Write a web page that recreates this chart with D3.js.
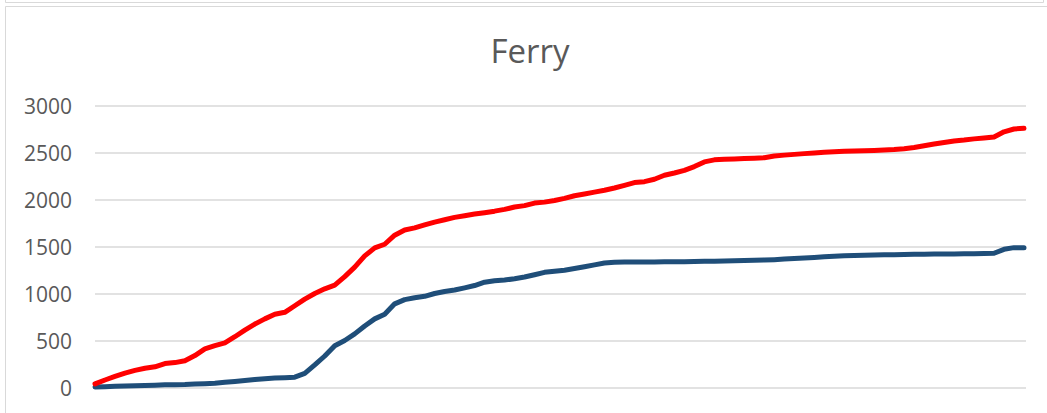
<!DOCTYPE html>
<html>
<head>
<meta charset="utf-8">
<script src="https://cdn.jsdelivr.net/npm/d3@7"></script>
<style>
  html, body { margin: 0; padding: 0; background: #fff; overflow: hidden; }
  svg { display: block; }
</style>
</head>
<body>
<svg id="chart" width="1047" height="413"></svg>
<script>
const title = "Ferry";
const yTicks = [0, 500, 1000, 1500, 2000, 2500, 3000];
const redSeries = [39, 80, 118, 153, 182, 205, 220, 255, 265, 285,
  340, 410, 445, 475, 540, 610, 675, 730, 780, 800,
  870, 940, 1000, 1050, 1090, 1180, 1280, 1400, 1485, 1524,
  1620, 1676, 1698, 1730, 1760, 1785, 1810, 1828, 1845, 1860,
  1876, 1895, 1920, 1935, 1962, 1972, 1990, 2012, 2040, 2058,
  2078, 2098, 2122, 2150, 2180, 2190, 2215, 2258, 2282, 2310,
  2350, 2400, 2422, 2428, 2432, 2436, 2440, 2445, 2463, 2472,
  2480, 2488, 2495, 2502, 2507, 2512, 2515, 2519, 2522, 2527,
  2532, 2540, 2553, 2572, 2590, 2606, 2622, 2632, 2645, 2655,
  2665, 2720, 2750, 2757];
const blueSeries = [5, 8, 12, 16, 19, 22, 25, 28, 30, 32,
  37, 41, 45, 55, 65, 75, 85, 94, 100, 105,
  110, 150, 240, 335, 445, 500, 570, 655, 730, 780,
  890, 935, 955, 970, 1000, 1022, 1037, 1060, 1085, 1120,
  1135, 1143, 1157, 1175, 1200, 1225, 1237, 1248, 1265, 1284,
  1305, 1325, 1333, 1334, 1335, 1335, 1336, 1337, 1338, 1339,
  1340, 1342, 1344, 1346, 1348, 1350, 1353, 1356, 1360, 1366,
  1372, 1378, 1384, 1390, 1396, 1402, 1405, 1407, 1409, 1411,
  1413, 1415, 1417, 1418, 1419, 1420, 1421, 1422, 1424, 1426,
  1428, 1470, 1488, 1488];
const days = d3.range(redSeries.length);

const svg = d3.select("#chart");
const FONT = "'Open Sans', 'Liberation Sans', sans-serif";

// outer frames (previous chart bottom + this chart border)
svg.append("path")
  .attr("d", "M5.5,0 V2.5 H1043.5 V0")
  .attr("fill", "none").attr("stroke", "#d9d9d9").attr("stroke-width", 1);
svg.append("path")
  .attr("d", "M5.5,420 V6.5 H1050")
  .attr("fill", "none").attr("stroke", "#d9d9d9").attr("stroke-width", 1);

const x = d3.scaleLinear().domain([0, days.length - 1]).range([95, 1024]);
const y = d3.scaleLinear().domain([0, 3000]).range([387.5, 105.5]);

// gridlines
const yAxis = d3.axisLeft(y).tickValues(yTicks).tickSize(-(1026 - 95)).tickPadding(23)
  .tickFormat(d3.format("d"));
const gy = svg.append("g").attr("transform", "translate(95,0)").call(yAxis);
gy.select(".domain").remove();
gy.selectAll(".tick line").attr("stroke", "#d9d9d9").attr("stroke-width", 1.3)
  .attr("x1", 0).attr("x2", 1026 - 95);
gy.selectAll(".tick text")
  .attr("fill", "#595959")
  .attr("font-family", FONT)
  .attr("font-size", "21px")
  .attr("dy", "0.36em");

const line = d3.line().x((d, i) => x(i)).y(d => y(d));

svg.append("path").datum(blueSeries)
  .attr("fill", "none").attr("stroke", "#1f4e79").attr("stroke-width", 5)
  .attr("stroke-linejoin", "round").attr("stroke-linecap", "round")
  .attr("d", line);
svg.append("path").datum(redSeries)
  .attr("fill", "none").attr("stroke", "#ff0000").attr("stroke-width", 5)
  .attr("stroke-linejoin", "round").attr("stroke-linecap", "round")
  .attr("d", line);

svg.append("text")
  .attr("x", 530).attr("y", 63)
  .attr("text-anchor", "middle")
  .attr("fill", "#595959")
  .attr("font-family", FONT)
  .attr("font-size", "33px")
  .text(title);
</script>
</body>
</html>
